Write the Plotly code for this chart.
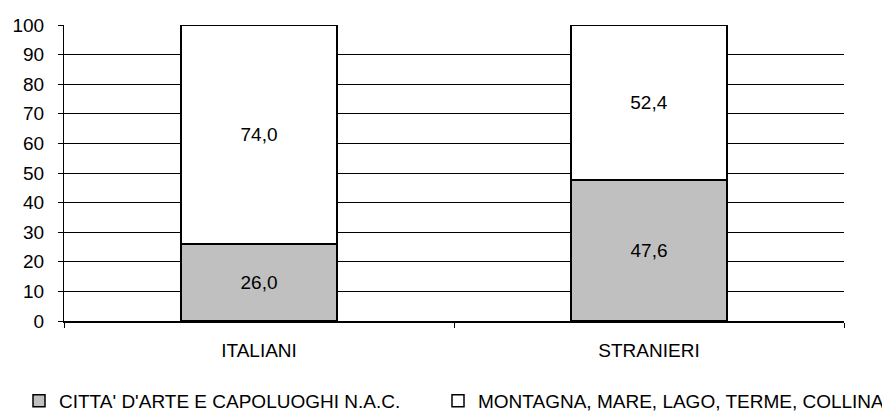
import plotly.graph_objects as go

categories = ["ITALIANI", "STRANIERI"]
citta_arte = [26.0, 47.6]
montagna_mare = [74.0, 52.4]
series_names = ["CITTA' D'ARTE E CAPOLUOGHI N.A.C.", "MONTAGNA, MARE, LAGO, TERME, COLLINA"]
y_ticks = list(range(0, 101, 10))

FONT = "Liberation Sans, Arial, sans-serif"
FS = 19
W, H = 882, 404  # page body has an 8px margin in the browser

fig = go.Figure()
fig.add_trace(go.Bar(
    x=categories, y=citta_arte, name=series_names[0], legend="legend",
    marker=dict(color="#C0C0C0", line=dict(color="black", width=1.5)),
    texttemplate="%{y:.1f}", textposition="inside", insidetextanchor="middle",
    textfont=dict(color="black", size=FS, family=FONT),
))
fig.add_trace(go.Bar(
    x=categories, y=montagna_mare, name=series_names[1], legend="legend2",
    marker=dict(color="white", line=dict(color="black", width=1.5)),
    texttemplate="%{y:.1f}", textposition="inside", insidetextanchor="middle",
    textfont=dict(color="black", size=FS, family=FONT),
))

leg_common = dict(
    orientation="h", xref="container", yref="container",
    xanchor="left", yanchor="middle", y=11 / H,
    font=dict(size=FS, family=FONT), itemwidth=30,
    bgcolor="rgba(0,0,0,0)", borderwidth=0,
)

fig.update_layout(
    barmode="stack",
    bargap=0.6,
    width=W, height=H,
    margin=dict(l=56, r=46, t=17, b=91, autoexpand=False),
    plot_bgcolor="white", paper_bgcolor="white",
    separators=",.",
    font=dict(family=FONT, size=FS, color="black"),
    showlegend=True,
    legend=dict(x=11 / W, **leg_common),
    legend2=dict(x=430 / W, **leg_common),
)
fig.update_yaxes(
    range=[0, 100], tickvals=y_ticks, showgrid=True, gridcolor="black", gridwidth=1,
    showline=True, linecolor="black", linewidth=1,
    ticks="outside", ticklen=5, tickcolor="black", zeroline=False,
    tickfont=dict(size=FS), ticklabelstandoff=10, fixedrange=True,
)
fig.update_xaxes(
    showline=True, linecolor="black", linewidth=1.5,
    ticks="outside", ticklen=5, tickcolor="black", tickson="boundaries",
    tickfont=dict(size=FS), ticklabelstandoff=11,
)

fig.write_html("out.html")
